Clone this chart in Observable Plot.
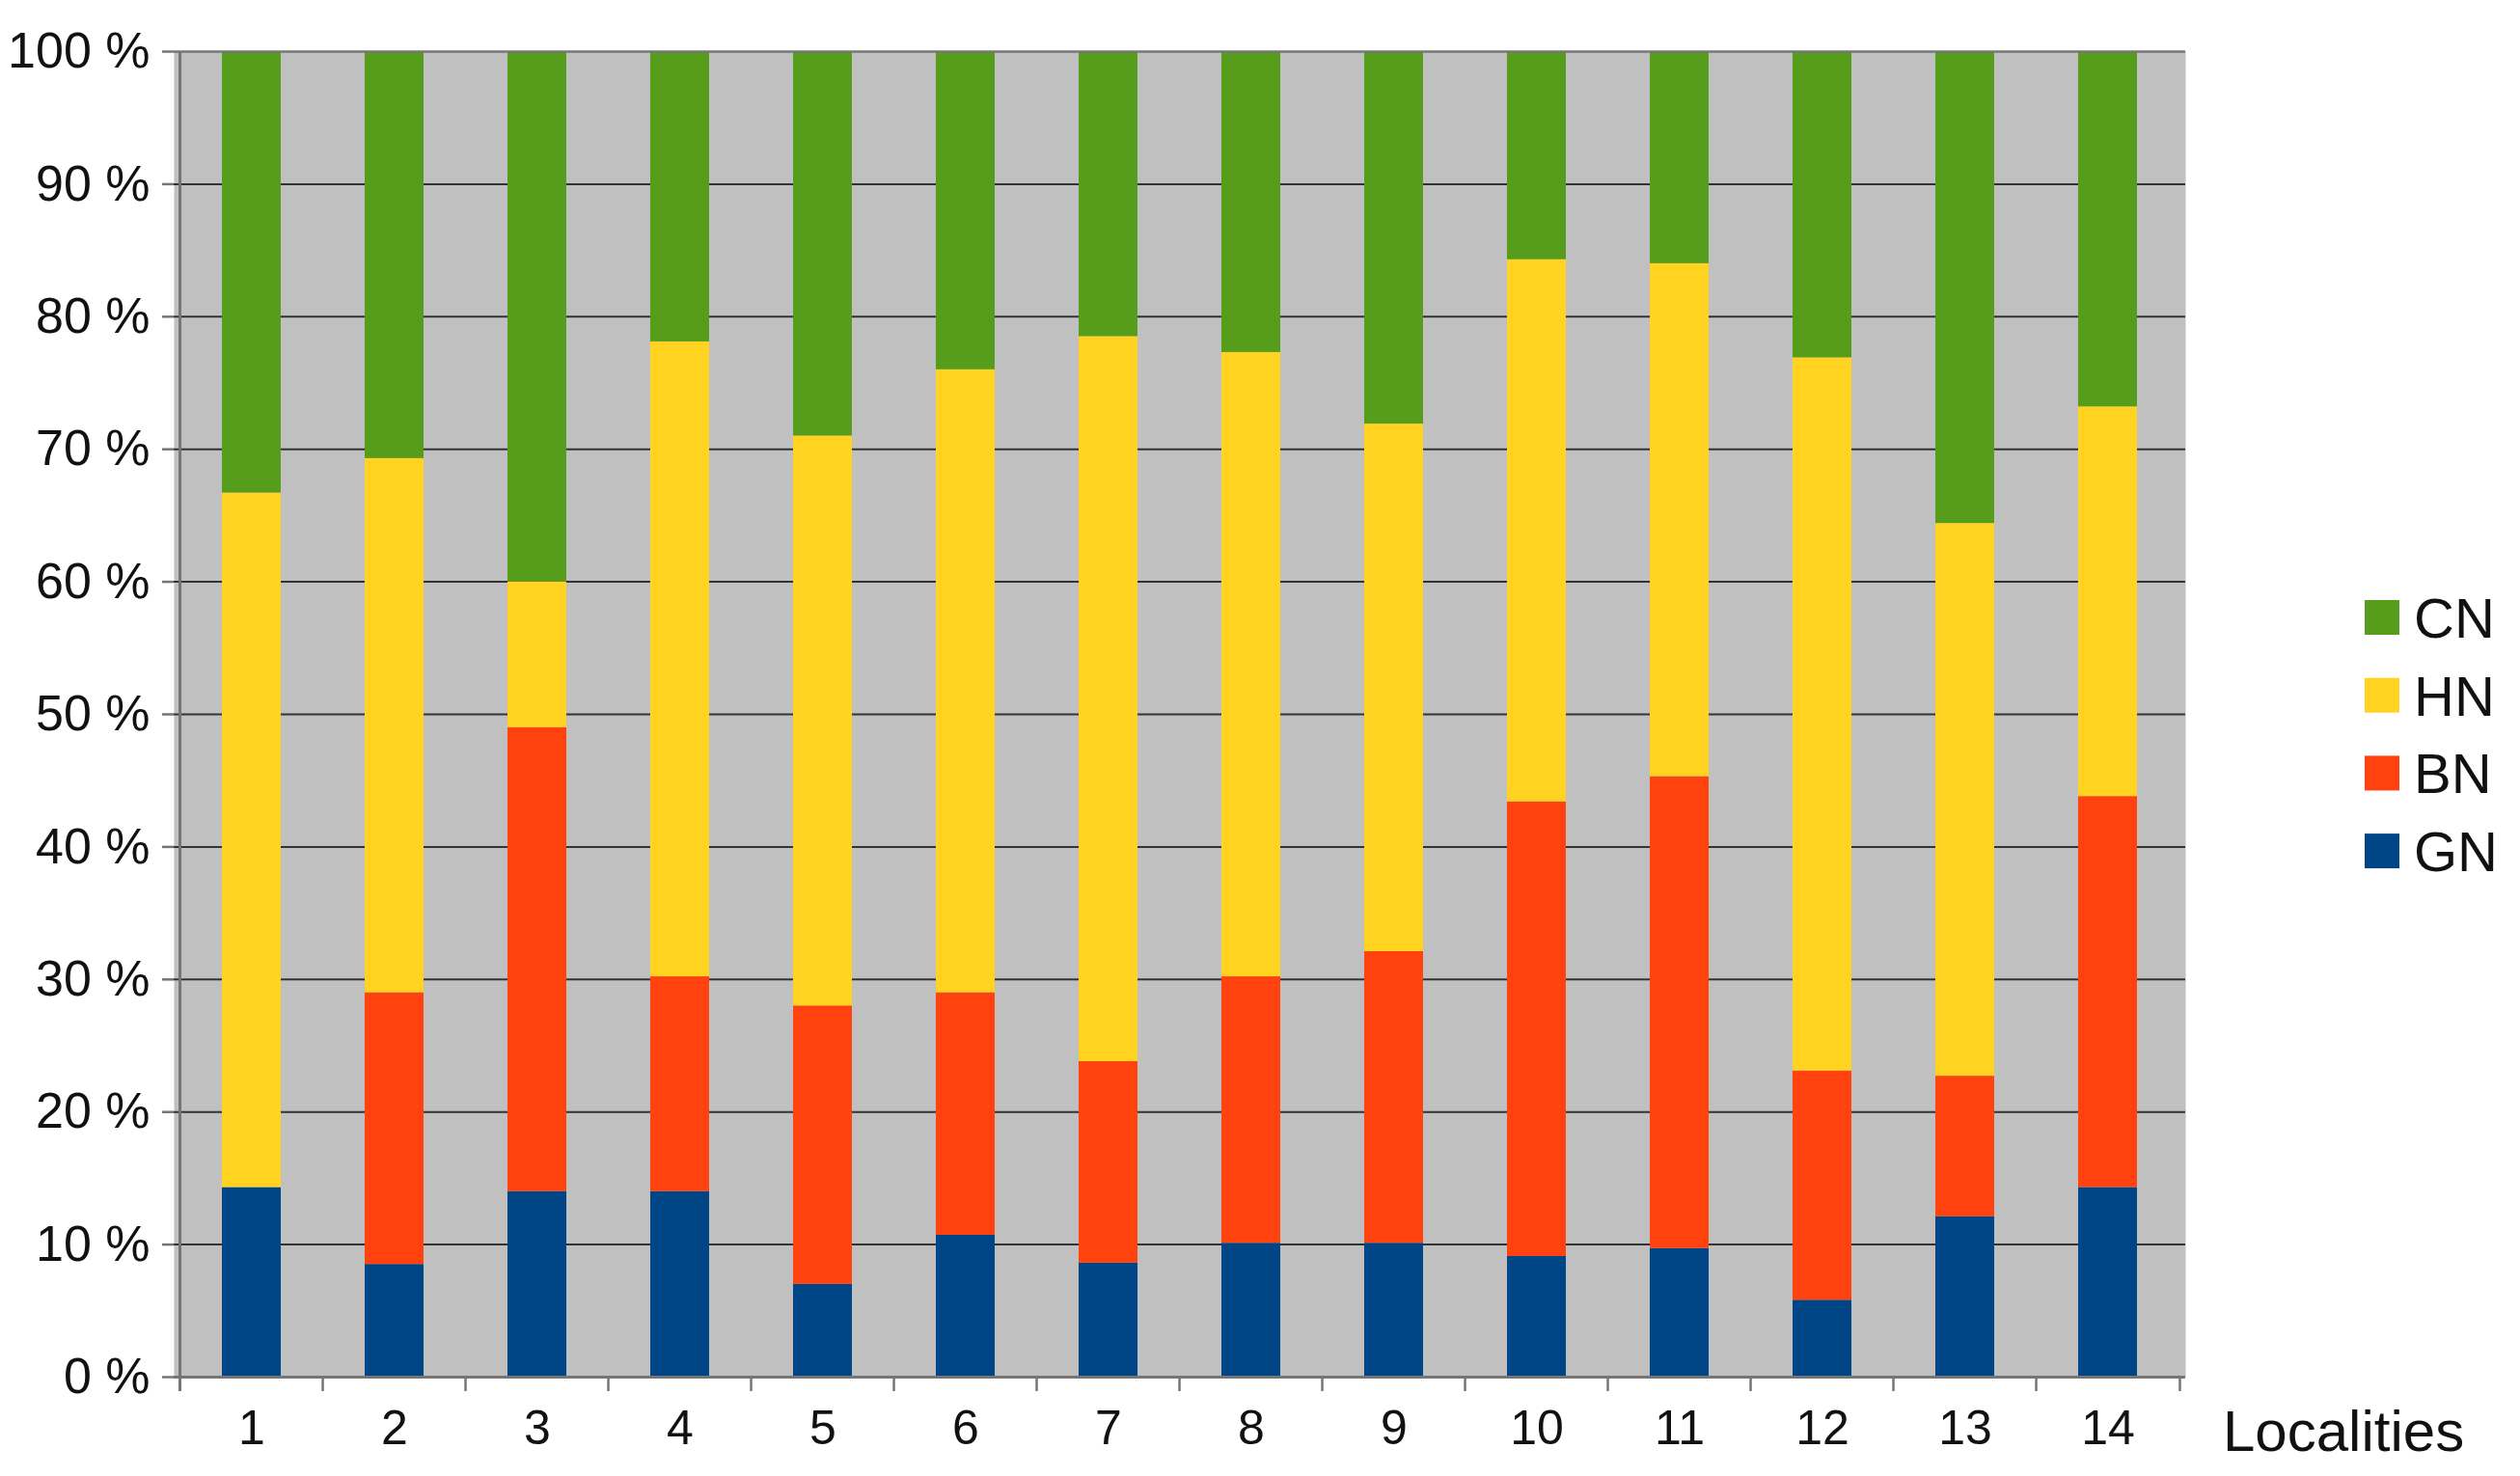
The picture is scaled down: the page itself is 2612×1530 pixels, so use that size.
<!DOCTYPE html>
<html>
<head>
<meta charset="utf-8">
<script src="https://cdn.jsdelivr.net/npm/d3@7"></script>
<script src="https://cdn.jsdelivr.net/npm/@observablehq/plot@0.6"></script>
<style>
  html, body { margin: 0; padding: 0; background: #ffffff; }
  #chart svg { display: block; }
</style>
</head>
<body>
<div id="chart"></div>
<script>
// ---- Data (percent of each locality) ----
const localities = [1, 2, 3, 4, 5, 6, 7, 8, 9, 10, 11, 12, 13, 14];
const seriesNames = ["GN", "BN", "HN", "CN"];           // bottom -> top
const legendOrder = ["CN", "HN", "BN", "GN"];           // as listed in legend
const GN = [14.3, 8.5, 14.0, 14.0, 7.0, 10.7, 8.6, 10.1, 10.1, 9.1, 9.7, 5.8, 12.1, 14.3];
const BN = [0.0, 20.5, 35.0, 16.2, 21.0, 18.3, 15.2, 20.1, 22.0, 34.3, 35.6, 17.3, 10.6, 29.5];
const HN = [52.4, 40.3, 11.0, 47.9, 43.0, 47.0, 54.7, 47.1, 39.8, 40.9, 38.7, 53.8, 41.7, 29.4];
const CN = [33.3, 30.7, 40.0, 21.9, 29.0, 24.0, 21.5, 22.7, 28.1, 15.7, 16.0, 23.1, 35.6, 26.8];
const yTicks = [0, 10, 20, 30, 40, 50, 60, 70, 80, 90, 100];
const seriesColors = ["#004586", "#ff420e", "#ffd320", "#579d1c"];
const xLabel = "Localities";

const seriesValues = {GN, BN, HN, CN};
const data = localities.flatMap((loc, i) =>
  seriesNames.map(s => ({locality: loc, series: s, value: seriesValues[s][i]}))
);

// ---- Layout ----
const W = 2612, H = 1530;
const ML = 180, MR = 347, MT = 53, MB = 103;
const plotW = W - ML - MR, plotH = H - MT - MB;
const step = plotW / localities.length;
const font = "'Liberation Sans', Arial, Helvetica, sans-serif";
const axisGray = "#767676";

const chart = Plot.plot({
  width: W,
  height: H,
  marginLeft: ML,
  marginRight: MR,
  marginTop: MT,
  marginBottom: MB,
  style: {fontFamily: font, background: "#ffffff", color: "#111"},
  x: {type: "band", domain: localities, paddingInner: 0.59, paddingOuter: 0.295, axis: null},
  y: {domain: [0, 100], axis: null},
  color: {domain: seriesNames, range: seriesColors},
  marks: [
    Plot.frame({fill: "#c0c0c0", stroke: "none"}),
    Plot.ruleY(yTicks.filter(d => d > 0 && d < 100), {stroke: "#333333", strokeWidth: 2}),
    Plot.barY(data, {x: "locality", y: "value", fill: "series"}),
    Plot.ruleY([100], {stroke: axisGray, strokeWidth: 2.5}),
    Plot.ruleY([0], {stroke: axisGray, strokeWidth: 3}),
    // left axis line (extended down into first tick)
    Plot.ruleX([localities[0]], {dx: -step / 2, stroke: axisGray, strokeWidth: 3, insetBottom: -15}),
    // x tick marks at band boundaries
    Plot.ruleX(localities, {dx: -step / 2, stroke: axisGray, strokeWidth: 2.5, insetTop: plotH, insetBottom: -15}),
    Plot.ruleX([localities[localities.length - 1]], {dx: step / 2, stroke: axisGray, strokeWidth: 2.5, insetTop: plotH, insetBottom: -15}),
    Plot.axisY(yTicks, {
      anchor: "left", tickSize: 12, tickPadding: 13, fontSize: 52,
      stroke: axisGray, strokeWidth: 2.5, label: null,
      tickFormat: d => d + " %", fill: "#111"
    }),
    Plot.axisX(localities, {
      anchor: "bottom", tickSize: 0, tickPadding: 34, fontSize: 50, fill: "#111", label: null
    })
  ]
});

// ---- Legend and axis title inside the SVG's right margin ----
const svg = d3.select(chart);
const colorScale = chart.scale("color");
const cmap = new Map(colorScale.domain.map((d, i) => [d, colorScale.range[i]]));
const legendTop = 640, legendGap = 80.7;
const lg = svg.append("g")
  .attr("font-family", font).attr("font-size", 58).attr("fill", "#111")
  .attr("text-anchor", "start");
legendOrder.forEach((name, i) => {
  const cy = legendTop + i * legendGap;
  lg.append("rect").attr("x", 2451).attr("y", cy - 18).attr("width", 36).attr("height", 36)
    .attr("fill", cmap.get(name));
  lg.append("text").attr("x", 2502).attr("y", cy).attr("dy", "0.36em")
    .attr("text-anchor", "start").text(name);
});
svg.append("text")
  .attr("x", 2304).attr("y", 1504)
  .attr("text-anchor", "start")
  .attr("font-family", font).attr("font-size", 60).attr("fill", "#111")
  .text(xLabel);

document.getElementById("chart").appendChild(chart);
</script>
</body>
</html>
